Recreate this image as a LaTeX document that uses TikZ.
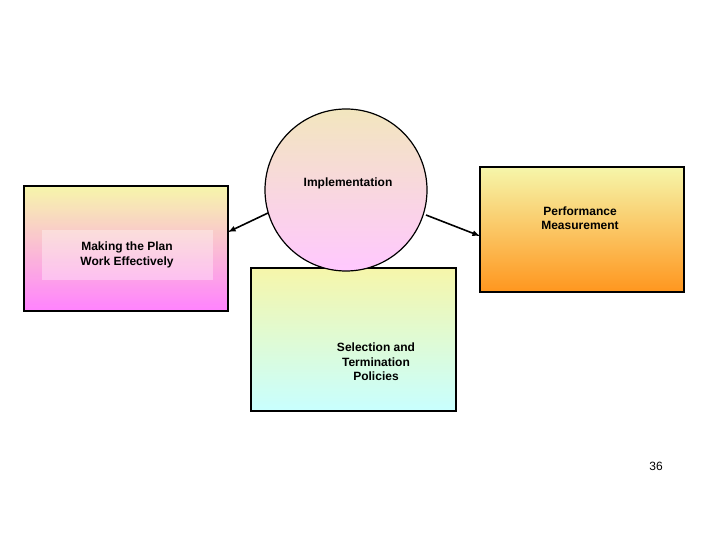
\documentclass[tikz,border=0pt]{standalone}
\usepackage{fontspec}
\setmainfont{Liberation Sans}
\begin{document}
\begin{tikzpicture}[x=1pt,y=-1pt,
  box/.style={draw=black,line width=1.2pt},
  lbl/.style={font=\bfseries\fontsize{12}{14.5}\selectfont,align=center,inner sep=0pt},
  arr/.style={-latex,line width=1.6pt}]
\useasboundingbox (0,0) rectangle (720,540);
\definecolor{ylw}{RGB}{246,246,170}
\definecolor{mag}{RGB}{255,130,255}
\definecolor{org}{RGB}{255,150,30}
\definecolor{cyn}{RGB}{200,255,255}
\definecolor{beige}{RGB}{242,230,190}
\definecolor{pnk}{RGB}{255,200,255}
% left box
\shade[top color=ylw,bottom color=mag] (24,186) rectangle (228,311);
\draw[box] (24,186) rectangle (228,311);
\fill[white,opacity=0.35] (42,230) rectangle (213,280);
\node[lbl] (plan) at (127,255) {Making the Plan\\Work Effectively};
\node[inner sep=0pt] (lb) at (228,232) {};
% right box
\shade[top color=ylw,bottom color=org] (480,167) rectangle (684,292);
\draw[box] (480,167) rectangle (684,292);
\node[lbl] (perf) at (580,218) {Performance\\Measurement};
\node[inner sep=0pt] (rb) at (480,236) {};
% bottom box
\shade[top color=ylw,bottom color=cyn] (251,268) rectangle (456,411);
\draw[box] (251,268) rectangle (456,411);
\node[lbl] (sel) at (376,362) {Selection and\\Termination\\Policies};
% circle
\shade[top color=beige,bottom color=pnk] (346,190) circle (81);
\draw[box] (346,190) circle (81);
\node[lbl] (impl) at (348,183) {Implementation};
\coordinate (cl) at (268,213);
\coordinate (cr) at (426,215);
\draw[arr] (cl) -- (lb.center);
\draw[arr] (cr) -- (rb.center);
\node[font=\fontsize{12}{14}\selectfont,inner sep=0pt] (num) at (656,466) {36};
\end{tikzpicture}
\end{document}
